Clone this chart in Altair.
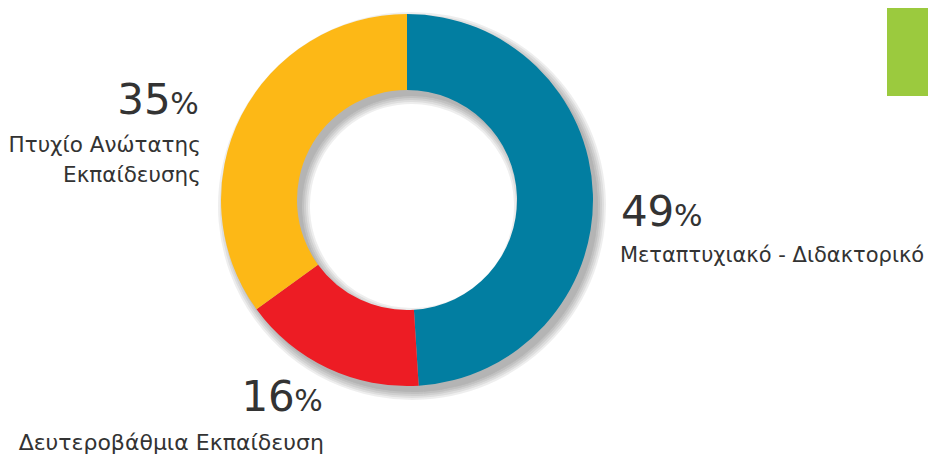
import altair as alt
import pandas as pd

# ---- data ----
categories = ["Μεταπτυχιακό - Διδακτορικό", "Δευτεροβάθμια Εκπαίδευση", "Πτυχίο Ανώτατης Εκπαίδευσης"]
labels = ["Μεταπτυχιακό - Διδακτορικό", "Δευτεροβάθμια Εκπαίδευση", "Πτυχίο Ανώτατης\nΕκπαίδευσης"]
values = [49, 16, 35]
order = [0, 1, 2]
colors = ["#027EA1", "#ED1C24", "#FDB816"]

df = pd.DataFrame({"category": categories, "label": labels, "value": values, "order": order})
deco = pd.DataFrame({"k": [0]})

CX, CY = 399, 192
R_OUT, R_IN = 186, 110
FONT = "DejaVu Sans"
TXT = "#333333"
theta_scale = alt.Scale(domain=[0, 100])

base = (
    alt.Chart(df)
    .transform_window(cum="sum(value)", sort=[alt.SortField("order")])
    .transform_calculate(mid="datum.cum - datum.value / 2")
)

# green decorative block
green = alt.Chart(deco).mark_rect(color="#9BCA3E").encode(
    x=alt.value(879), x2=alt.value(930), y=alt.value(0), y2=alt.value(88)
)

# soft drop shadow
shadows = []
for s in [0, 2, 4, 6, 8]:
    shadows.append(
        alt.Chart(df)
        .mark_arc(innerRadius=R_IN - s, outerRadius=R_OUT + s, color="#000000", opacity=0.065)
        .encode(
            theta=alt.Theta("value:Q", stack=True, scale=theta_scale),
            order=alt.Order("order:Q"),
            x=alt.value(CX + 5),
            y=alt.value(CY + 6),
        )
    )

arcs = alt.Chart(df).mark_arc(innerRadius=R_IN, outerRadius=R_OUT).encode(
    theta=alt.Theta("value:Q", stack=True, scale=theta_scale),
    color=alt.Color("category:N", scale=alt.Scale(domain=categories, range=colors), legend=None),
    order=alt.Order("order:Q"),
    x=alt.value(CX),
    y=alt.value(CY),
)


def label_layer(i, kind, align, dx, dy, size):
    mk = base.transform_filter(alt.datum.order == i).mark_text(
        radius=200, align=align, baseline="alphabetic", dx=dx, dy=dy,
        fontSize=size, font=FONT, color=TXT, lineBreak="\n", lineHeight=30,
    )
    enc = dict(
        theta=alt.Theta("mid:Q", stack=False, scale=theta_scale),
        x=alt.value(CX),
        y=alt.value(CY),
    )
    if kind == "num":
        enc["text"] = alt.Text("value:Q", format="d")
    elif kind == "pct":
        enc["text"] = alt.value("%")
    else:
        enc["text"] = alt.Text("label:N")
    return mk.encode(**enc)


texts = [
    # 49%
    label_layer(0, "num", "left", 14, 32, 42),
    label_layer(0, "pct", "left", 67, 32, 30),
    label_layer(0, "name", "left", 13, 68, 21),
    # 16%
    label_layer(1, "pct", "right", 1, 30, 30),
    label_layer(1, "num", "right", -27, 30, 42),
    label_layer(1, "name", "right", 2, 69, 22),
    # 35%
    label_layer(2, "pct", "right", -30, 5, 30),
    label_layer(2, "num", "right", -58, 5, 42),
    label_layer(2, "name", "right", -28, 43, 21.5),
]

chart = (
    alt.layer(green, *shadows, arcs, *texts)
    .properties(width=920, height=447, padding=0, autosize="none")
    .configure_view(strokeWidth=0)
)

chart.save("out.html", embed_options={"renderer": "svg", "actions": False})
